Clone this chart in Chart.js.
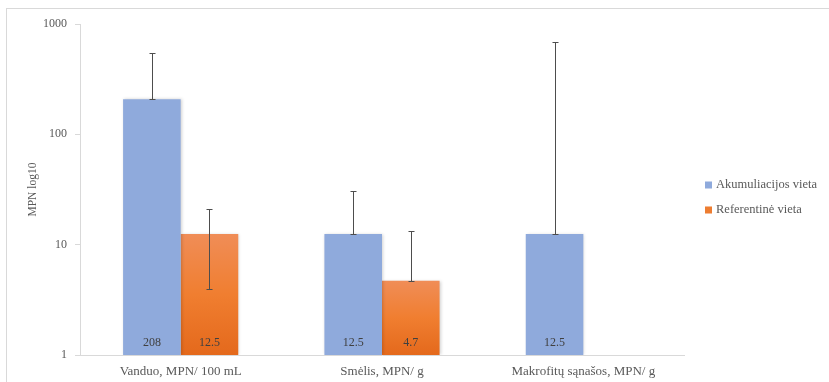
<!DOCTYPE html>
<html>
<head>
<meta charset="utf-8">
<script src="https://cdn.jsdelivr.net/npm/chart.js@4"></script>
<style>
  html, body { margin: 0; padding: 0; background: #fff; }
  #wrap { position: relative; width: 829px; height: 382px; overflow: hidden; }
  #frame { position: absolute; left: 6px; top: 8px; width: 900px; height: 400px;
           border-left: 1px solid #d9d9d9; border-top: 1px solid #d9d9d9; }
  canvas { position: absolute; left: 0; top: 0; }
</style>
</head>
<body>
<div id="wrap">
  <div id="frame"></div>
  <canvas id="mpnChart" width="829" height="382"></canvas>
</div>
<script>
// MPN values per site, log scale
const categories = ['Vanduo, MPN/ 100 mL', 'Smėlis, MPN/ g', 'Makrofitų sąnašos, MPN/ g'];
const seriesNames = ['Akumuliacijos vieta', 'Referentinė vieta'];
const accumulation = [208, 12.5, 12.5];
const reference = [12.5, 4.7, null];
const accumulationErr = [342, 18.4, 680];
const referenceErr = [8.5, 8.7, null];
const yTicks = [1, 10, 100, 1000];

const SERIF = '"Liberation Serif", serif';
const TEXT = '#595959';
const BLUE = '#8faadc';

function orangeFill(ctx) {
    const chart = ctx.chart;
    const yScale = chart.scales.y;
    if (!chart.chartArea || !yScale || ctx.raw == null) return '#ed7d31';
    const top = yScale.getPixelForValue(ctx.raw);
    const g = chart.ctx.createLinearGradient(0, top, 0, chart.chartArea.bottom);
    g.addColorStop(0, '#f08d57');
    g.addColorStop(0.5, '#f07e30');
    g.addColorStop(1, '#e4691c');
    return g;
}

// soft shadow under the bars
const barShadow = {
    id: 'barShadow',
    beforeDatasetsDraw(chart) {
        const c = chart.ctx;
        c.save();
        c.shadowColor = 'rgba(0,0,0,0.18)';
        c.shadowBlur = 3;
        c.shadowOffsetX = 1;
        c.shadowOffsetY = 0;
    },
    afterDatasetsDraw(chart) {
        chart.ctx.restore();
    }
};

// symmetric error bars; minus side dropped when it falls below zero
const errorBars = {
    id: 'errorBars',
    afterDatasetsDraw(chart) {
        const c = chart.ctx;
        const y = chart.scales.y;
        const errs = [accumulationErr, referenceErr];
        c.save();
        c.strokeStyle = '#4d4d4d';
        c.lineWidth = 1;
        chart.data.datasets.forEach((ds, i) => {
            const meta = chart.getDatasetMeta(i);
            meta.data.forEach((bar, j) => {
                const v = ds.data[j];
                const e = errs[i][j];
                if (v == null || e == null) return;
                const x = Math.round(bar.x) + 0.5;
                const hi = Math.round(y.getPixelForValue(v + e)) + 0.5;
                const lo = v - e > 0 ? Math.round(y.getPixelForValue(v - e)) + 0.5 : Math.round(bar.y) + 0.5;
                c.beginPath();
                c.moveTo(x, hi); c.lineTo(x, lo);
                c.moveTo(x - 3, hi); c.lineTo(x + 3, hi);
                c.moveTo(x - 3, lo); c.lineTo(x + 3, lo);
                c.stroke();
            });
        });
        c.restore();
    }
};

// value labels sitting at the foot of each bar
const baseLabels = {
    id: 'baseLabels',
    afterDatasetsDraw(chart) {
        const c = chart.ctx;
        const bottom = chart.chartArea.bottom;
        c.save();
        c.font = '12px ' + SERIF;
        c.fillStyle = '#404040';
        c.textAlign = 'center';
        c.textBaseline = 'middle';
        chart.data.datasets.forEach((ds, i) => {
            chart.getDatasetMeta(i).data.forEach((bar, j) => {
                const v = ds.data[j];
                if (v == null) return;
                c.fillText(String(v), bar.x, bottom - 12);
            });
        });
        c.restore();
    }
};

const sideLegend = {
    id: 'sideLegend',
    afterDraw(chart) {
        const c = chart.ctx;
        const swatches = [BLUE, '#ed7d31'];
        c.save();
        c.font = '12.5px ' + SERIF;
        c.textBaseline = 'middle';
        c.textAlign = 'left';
        seriesNames.forEach((name, i) => {
            const cy = 185 + i * 25;
            c.fillStyle = swatches[i];
            c.fillRect(705, cy - 3.5, 7, 7);
            c.fillStyle = TEXT;
            c.fillText(name, 716, cy);
        });
        c.restore();
    }
};

new Chart(document.getElementById('mpnChart'), {
    type: 'bar',
    data: {
        labels: categories,
        datasets: [
            { label: seriesNames[0], data: accumulation, backgroundColor: BLUE },
            { label: seriesNames[1], data: reference, backgroundColor: orangeFill }
        ]
    },
    options: {
        responsive: false,
        animation: false,
        layout: { padding: { top: 24, right: 145, left: 0, bottom: 0 } },
        datasets: { bar: { barPercentage: 1, categoryPercentage: 0.572, borderWidth: 0 } },
        plugins: { legend: { display: false }, tooltip: { enabled: false } },
        scales: {
            x: {
                grid: { display: false, drawTicks: false },
                border: { color: '#d9d9d9' },
                ticks: { color: TEXT, font: { family: SERIF, size: 13 }, padding: 9, maxRotation: 0 },
                afterFit: s => { s.height = 27; }
            },
            y: {
                type: 'logarithmic',
                min: 1,
                max: 1000,
                afterBuildTicks: s => { s.ticks = yTicks.map(v => ({ value: v })); },
                grid: { drawOnChartArea: false, drawTicks: true, tickLength: 5, color: '#d9d9d9' },
                border: { color: '#d9d9d9' },
                ticks: { color: TEXT, font: { family: SERIF, size: 12 }, padding: 8,
                         callback: v => String(v) },
                title: { display: true, text: 'MPN log10', color: TEXT,
                         font: { family: SERIF, size: 11.5 }, padding: { top: 26, bottom: 0 } },
                afterFit: s => { s.width = 80; }
            }
        }
    },
    plugins: [barShadow, errorBars, baseLabels, sideLegend]
});
</script>
</body>
</html>
